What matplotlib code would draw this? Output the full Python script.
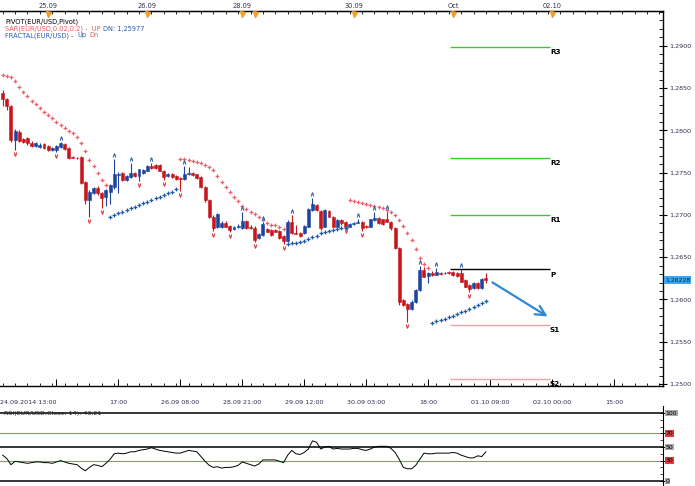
import numpy as np
import matplotlib
matplotlib.use("Agg")
import matplotlib.pyplot as plt
import matplotlib.transforms as mtrans
from matplotlib.patches import Rectangle
from matplotlib.ticker import FuncFormatter, MultipleLocator, FixedLocator

# ---------------- data (hourly EUR/USD bars, index = bar number) ----------------
opens = [1.28444,1.28366,1.28287,1.27885,1.27983,1.27893,1.27905,1.27853,1.27814,1.27802,
         1.27838,1.27814,1.27767,1.27767,1.27799,1.27838,1.27787,1.27681,1.27678,1.27688,
         1.27392,1.27176,1.27262,1.27321,1.27255,1.27208,1.27274,1.27326,1.27472,1.27492,
         1.27412,1.27444,1.27492,1.27460,1.27499,1.27522,1.27578,1.27590,1.27590,1.27522,
         1.27460,1.27483,1.27463,1.27433,1.27428,1.27480,1.27492,1.27480,1.27444,1.27333,
         1.27176,1.26979,1.26860,1.26860,1.26908,1.26869,1.26833,1.26851,1.26849,1.26928,
         1.26860,1.26849,1.26723,1.26762,1.26830,1.26821,1.26821,1.26813,1.26750,1.26691,
         1.26920,1.26786,1.26782,1.26782,1.26860,1.27058,1.27117,1.27046,1.26860,1.27046,
         1.26979,1.26860,1.26940,1.26920,1.26860,1.26889,1.26908,1.26912,1.26865,1.26860,
         1.26940,1.26960,1.26948,1.26948,1.26920,1.26842,1.26605,1.25994,1.25947,1.25884,
         1.25974,1.26112,1.26349,1.26278,1.26317,1.26295,1.26317,1.26310,1.26321,1.26321,
         1.26310,1.26310,1.26230,1.26171,1.26132,1.26191,1.26132,1.26248]
highs = [1.28476,1.28382,1.28299,1.28015,1.28003,1.27909,1.27921,1.27873,1.27862,1.27850,
         1.27850,1.27826,1.27802,1.27826,1.27865,1.27850,1.27802,1.27690,1.27684,1.27696,
         1.27401,1.27294,1.27330,1.27341,1.27271,1.27306,1.27365,1.27657,1.27507,1.27507,
         1.27472,1.27610,1.27501,1.27548,1.27542,1.27590,1.27613,1.27602,1.27602,1.27531,
         1.27495,1.27495,1.27472,1.27442,1.27578,1.27563,1.27501,1.27489,1.27454,1.27341,
         1.27188,1.26993,1.27022,1.26922,1.26922,1.26881,1.26863,1.26892,1.27038,1.26940,
         1.26875,1.26863,1.26786,1.26916,1.26845,1.26833,1.26833,1.26827,1.26762,1.26934,
         1.26999,1.26881,1.26792,1.26881,1.27076,1.27196,1.27129,1.27058,1.27070,1.27058,
         1.26987,1.26951,1.26951,1.26928,1.26898,1.26916,1.26946,1.26922,1.26875,1.26957,
         1.27038,1.26969,1.26957,1.27046,1.26928,1.26851,1.26615,1.26006,1.25959,1.25988,
         1.26124,1.26390,1.26378,1.26325,1.26331,1.26372,1.26325,1.26325,1.26331,1.26331,
         1.26319,1.26357,1.26242,1.26183,1.26201,1.26201,1.26248,1.26310]
lows = [1.28287,1.28240,1.27862,1.27767,1.27862,1.27850,1.27826,1.27802,1.27802,1.27791,
        1.27779,1.27755,1.27755,1.27743,1.27791,1.27767,1.27661,1.27667,1.27661,1.27365,
        1.27129,1.26979,1.27247,1.27235,1.27081,1.27109,1.27129,1.27306,1.27262,1.27401,
        1.27401,1.27436,1.27448,1.27401,1.27489,1.27513,1.27542,1.27542,1.27513,1.27412,
        1.27448,1.27436,1.27418,1.27282,1.27418,1.27472,1.27460,1.27424,1.27318,1.27152,
        1.26963,1.26810,1.26845,1.26845,1.26851,1.26798,1.26821,1.26839,1.26833,1.26833,
        1.26833,1.26685,1.26709,1.26750,1.26792,1.26750,1.26792,1.26715,1.26656,1.26680,
        1.26768,1.26768,1.26739,1.26768,1.26851,1.27046,1.27046,1.26827,1.26851,1.26969,
        1.26851,1.26851,1.26886,1.26851,1.26851,1.26881,1.26898,1.26810,1.26845,1.26851,
        1.26928,1.26892,1.26881,1.26910,1.26827,1.26591,1.25935,1.25917,1.25738,1.25870,
        1.25964,1.26100,1.26260,1.26195,1.26278,1.26284,1.26290,1.26301,1.26301,1.26278,
        1.26266,1.26201,1.26142,1.26092,1.26118,1.26124,1.26118,1.26191]
closes = [1.28366,1.28287,1.27885,1.27992,1.27877,1.27865,1.27846,1.27814,1.27846,1.27826,
          1.27787,1.27767,1.27787,1.27814,1.27846,1.27775,1.27669,1.27672,1.27669,1.27380,
          1.27176,1.27274,1.27314,1.27255,1.27196,1.27294,1.27353,1.27480,1.27483,1.27412,
          1.27460,1.27492,1.27460,1.27539,1.27531,1.27578,1.27551,1.27551,1.27522,1.27451,
          1.27483,1.27444,1.27428,1.27424,1.27483,1.27492,1.27472,1.27433,1.27333,1.27176,
          1.26979,1.26842,1.27011,1.26908,1.26860,1.26821,1.26851,1.26869,1.26928,1.26842,
          1.26842,1.26703,1.26774,1.26889,1.26801,1.26762,1.26801,1.26730,1.26691,1.26920,
          1.26782,1.26779,1.26750,1.26869,1.27066,1.27129,1.27058,1.26842,1.27058,1.26979,
          1.26860,1.26940,1.26901,1.26860,1.26889,1.26908,1.26920,1.26849,1.26857,1.26948,
          1.26960,1.26901,1.26889,1.26920,1.26842,1.26605,1.25974,1.25935,1.25888,1.25974,
          1.26112,1.26349,1.26269,1.26310,1.26290,1.26321,1.26301,1.26317,1.26310,1.26290,
          1.26278,1.26210,1.26151,1.26120,1.26191,1.26132,1.26239,1.26228]

sar_values = [1.28654,1.28642,1.28633,1.28583,1.28515,1.28456,1.28405,1.28350,1.28307,1.28260,
              1.28220,1.28181,1.28142,1.28102,1.28063,1.28031,1.27995,1.27964,1.27917,1.27846,
              1.27755,1.27649,1.27578,1.27495,1.27412,1.27353,
              1.26979,1.26999,1.27019,1.27039,1.27058,1.27078,1.27098,1.27117,1.27137,1.27157,
              1.27177,1.27196,1.27216,1.27236,1.27256,1.27276,1.27302,
              1.27661,1.27657,1.27649,1.27641,1.27629,1.27610,1.27590,1.27566,1.27531,1.27460,
              1.27392,1.27333,1.27274,1.27215,1.27164,1.27105,1.27070,1.27038,1.27011,1.26969,
              1.26934,1.26904,1.26886,1.26875,1.26860,1.26833,
              1.26650,1.26662,1.26671,1.26683,1.26695,1.26713,1.26733,1.26754,1.26780,1.26798,
              1.26813,1.26825,1.26833,1.26839,1.26845,
              1.27176,1.27168,1.27156,1.27144,1.27129,1.27117,1.27105,1.27090,1.27078,1.27061,
              1.27034,1.26999,1.26940,1.26869,1.26786,1.26703,1.26597,1.26490,1.26414,1.26372,
              1.25726,1.25740,1.25755,1.25772,1.25790,1.25807,1.25826,1.25846,1.25866,1.25888,
              1.25909,1.25931,1.25955,1.25977]
sar_long = [False]*26 + [True]*17 + [False]*26 + [True]*15 + [False]*20 + [True]*14

fractal_up = [14, 27, 31, 36, 44, 58, 63, 70, 75, 86, 90, 93, 101, 105, 111]
fractal_dn = [3, 13, 21, 24, 33, 39, 43, 51, 55, 61, 68, 83, 87, 98, 113]

rsi = [38,33,24,29,28,27,26,27,28,28,27,27,26,28,30,28,26,25,24,19,
       15,20,24,23,21,26,32,40,41,40,41,43,43,45,46,47,49,47,45,44,
       43,42,41,41,43,45,44,43,36,29,23,20,21,19,20,20,21,23,28,26,
       24,22,25,31,31,31,31,29,27,38,45,40,39,42,47,59,57,47,50,51,
       47,48,47,47,47,48,48,46,45,47,50,51,51,51,48,42,32,20,18,18,
       23,32,41,40,40,41,41,41,41,42,41,38,36,34,34,37,36,43]

pivot_names = ["R3", "R2", "R1", "P", "S1", "S2"]
pivot_levels = [1.28984, 1.27672, 1.26999, 1.26355, 1.25699, 1.25060]
pivot_colors = ["#33cc33", "#33cc33", "#33cc33", "#000000", "#f0a0a0", "#f0a0a0"]
pivot_start, pivot_end = 108.3, 132.5

arrow_start = (118, 1.26219)
arrow_end = (132.5, 1.25781)

day_ticks = [11, 35, 58, 61, 85, 109, 133]
day_labels = ["25.09", "26.09", "28.09", "", "30.09", "Oct", "02.10"]
time_ticks = [13, 28, 43, 58, 73, 88, 103, 118, 133, 148]
time_labels = ["", "17:00", "26.09 08:00", "28.09 21:00", "29.09 12:00", "30.09 03:00",
               "18:00", "01.10 09:00", "02.10 00:00", "15:00"]
first_label = "24.09.2014 13:00"
last_price = 1.26228
rsi_levels = [100, 70, 50, 30, 0]

# ---------------- figure ----------------
W, H = 695, 486
fig = plt.figure(figsize=(W / 100, H / 100), dpi=100)
fig.patch.set_facecolor("white")
plt.rcParams["font.family"] = ["DejaVu Sans"]
tick_col = "#2e2e50"
RED = "#c8161d"
BLUE = "#1d45a0"

def fx(px):
    return px / W

def fy(py):
    return 1 - py / H

# main axes
ax = fig.add_axes([fx(0), fy(386), fx(663), (386 - 11) / H])
ax.set_xlim(-0.654, 159.87)
ax.set_ylim(1.24977, 1.29410)
ax.spines["left"].set_visible(False)
for s in ["top", "right", "bottom"]:
    ax.spines[s].set_color("black")
    ax.spines[s].set_linewidth(1.0)

x = np.arange(len(opens))
o = np.array(opens); h = np.array(highs); l = np.array(lows); c = np.array(closes)
up = c >= o
cols = np.where(up, BLUE, RED)

ax.vlines(x, l, h, colors=cols, linewidth=0.8, zorder=3)
bottoms = np.minimum(o, c)
heights = np.maximum(np.abs(c - o), 0.00002)
ax.bar(x, heights, bottom=bottoms, width=0.72, color=cols, edgecolor=cols,
       linewidth=0.4, zorder=4)

sv = np.array(sar_values)
sl = np.array(sar_long)
ax.plot(x[~sl], sv[~sl], linestyle="none", marker="P", ms=2.8, color="#ea6470",
        markeredgewidth=0, zorder=5)
ax.plot(x[sl], sv[sl], linestyle="none", marker="P", ms=2.8, color="#1f5aa6",
        markeredgewidth=0, zorder=5)

tr_up = mtrans.offset_copy(ax.transData, fig=fig, y=4, units="dots")
tr_dn = mtrans.offset_copy(ax.transData, fig=fig, y=-4, units="dots")
ax.plot(fractal_up, h[fractal_up], linestyle="none", marker=r"$\wedge$", ms=2.6,
        color="#2a5cb0", markeredgewidth=0.3, transform=tr_up, zorder=6)
ax.plot(fractal_dn, l[fractal_dn], linestyle="none", marker=r"$\vee$", ms=2.6,
        color="#d83030", markeredgewidth=0.3, transform=tr_dn, zorder=6)

# pivots
for name, lev, col in zip(pivot_names, pivot_levels, pivot_colors):
    ax.hlines(lev, pivot_start, pivot_end, colors=col, linewidth=1.0, zorder=2)
    ax.annotate(name, (pivot_end, lev), xytext=(0, -1.5), textcoords="offset points",
                ha="left", va="top", fontsize=5.2, fontweight="bold", color="black")

ax.annotate("", xy=arrow_end, xytext=arrow_start,
            arrowprops=dict(arrowstyle="->,head_length=0.7,head_width=0.35",
                            lw=1.6, color="#2a8ad6"), zorder=7)

# right y axis
ax.yaxis.tick_right()
ax.yaxis.set_major_locator(MultipleLocator(0.005))
ax.yaxis.set_minor_locator(MultipleLocator(0.001))
ax.yaxis.set_major_formatter(FuncFormatter(lambda v, p: f"{v:.4f}".replace(".", ",")))
ax.tick_params(axis="y", which="major", direction="inout", length=6, width=0.8,
               labelsize=4.6, labelcolor=tick_col, pad=1.5)
ax.tick_params(axis="y", which="minor", direction="in", length=3, width=0.6)

# bottom x axis
ax.set_xticks(time_ticks)
ax.set_xticklabels(time_labels)
ax.xaxis.set_minor_locator(MultipleLocator(3))
ax.tick_params(axis="x", which="major", direction="in", length=5, width=0.7,
               labelsize=4.6, labelcolor=tick_col, pad=10)
ax.tick_params(axis="x", which="minor", direction="in", length=2.5, width=0.6)
ax.text(0.0, -0.043, first_label, transform=ax.transAxes, ha="left", va="center",
        fontsize=4.6, color=tick_col)

# top date axis
sec = ax.secondary_xaxis("top")
sec.set_xticks(day_ticks)
sec.set_xticklabels(day_labels)
sec.xaxis.set_minor_locator(MultipleLocator(3))
sec.tick_params(axis="x", which="major", direction="in", length=4, width=0.7,
                labelsize=4.8, labelcolor=tick_col, pad=1.5)
sec.tick_params(axis="x", which="minor", direction="in", length=2.5, width=0.6)
sec.spines["top"].set_color("black")
blend = mtrans.blended_transform_factory(ax.transData, ax.transAxes)
ax.plot(day_ticks, [1 - 2.6 / 375] * len(day_ticks), linestyle="none", marker="v",
        ms=3.6, color="#f0a028", transform=blend, clip_on=False, zorder=8)

# current price tag
ax.text(1.003, last_price, f"{last_price:.5f}".replace(".", ","),
        transform=mtrans.blended_transform_factory(ax.transAxes, ax.transData),
        ha="left", va="center", fontsize=4.4, color="#10203a",
        bbox=dict(boxstyle="square,pad=0.2", fc="#3aa8f0", ec="none"), clip_on=False)

# legend texts
fs = 4.8
fig.text(fx(5), fy(21.3), "PIVOT(EUR/USD,Pivot)", fontsize=fs, color="black", va="center")
fig.text(fx(5), fy(28.6), "SAR(EUR/USD,0.02,0.2) -  UP", fontsize=fs, color="#e05a5a", va="center")
fig.text(fx(103), fy(28.6), "DN: 1,25977", fontsize=fs, color="#2a5cb0", va="center")
fig.text(fx(5), fy(35.3), "FRACTAL(EUR/USD) - ", fontsize=fs, color="#2a5cb0", va="center")
fig.text(fx(77), fy(35.3), "Up", fontsize=fs, color="#2a5cb0", va="center")
fig.text(fx(89), fy(35.3), "Dn", fontsize=fs, color="#e05a5a", va="center")

# inner light frame
fig.add_artist(Rectangle((fx(0.5), fy(383)), fx(655), (383 - 17) / H, transform=fig.transFigure,
                         fill=False, ec="#c3c8d2", lw=0.8, zorder=0))

# ---------------- RSI panel ----------------
ax2 = fig.add_axes([fx(0), fy(486), fx(663), 80 / H])
ax2.set_xlim(-0.654, 159.87)
ax2.set_ylim(-7.35, 110.3)
for s in ["left", "top", "bottom"]:
    ax2.spines[s].set_visible(False)
ax2.spines["right"].set_color("black")
ax2.set_xticks([])
ax2.yaxis.tick_right()
ax2.set_yticks(rsi_levels)
ax2.set_yticklabels([])
ax2.yaxis.set_minor_locator(FixedLocator([10, 20, 40, 60, 80, 90]))
ax2.tick_params(axis="y", which="major", direction="inout", length=4, width=0.7)
ax2.tick_params(axis="y", which="minor", direction="in", length=2, width=0.5)

for lev in rsi_levels:
    if lev in (70, 30):
        ax2.axhline(lev, color="#e07070", lw=0.8, zorder=1)
    else:
        ax2.axhline(lev, color="black", lw=1.1, zorder=1)
ax2.plot(np.arange(len(rsi)), rsi, color="black", lw=0.7, zorder=3)

bt = mtrans.blended_transform_factory(ax2.transAxes, ax2.transData)
for lev in rsi_levels:
    fc = "#e03a3a" if lev in (70, 30) else "#a8a8a8"
    ax2.text(1.004, lev, str(lev), transform=bt, ha="left", va="center", fontsize=4.4,
             color="black", bbox=dict(boxstyle="square,pad=0.12", fc=fc, ec="none"),
             clip_on=False)
ax2.text(0.006, 100, "RSI(EUR/USD,Close, 14): 43,21", transform=bt, ha="left", va="center",
         fontsize=4.6, color="#222222", zorder=5)
fig.add_artist(Rectangle((fx(0.5), fy(490)), fx(655), (490 - 408) / H, transform=fig.transFigure,
                         fill=False, ec="#c3c8d2", lw=0.8, zorder=0))

fig.savefig("out.png", dpi=100, facecolor="white")
